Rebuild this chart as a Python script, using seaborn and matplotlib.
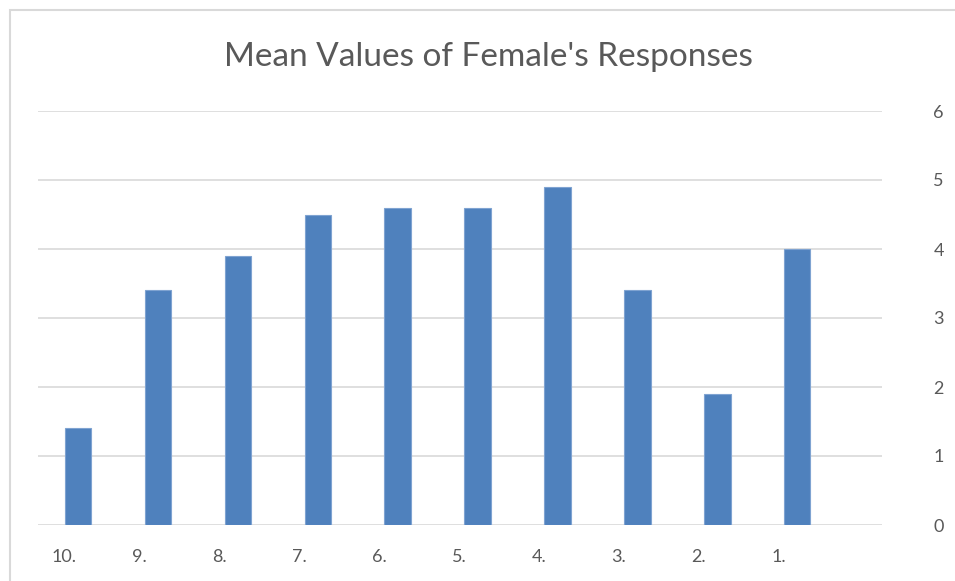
import matplotlib.pyplot as plt
import matplotlib.transforms as mtransforms
from matplotlib.patches import Rectangle
import seaborn as sns
import pandas as pd

# === DATA ===
items = ["10.", "9.", "8.", "7.", "6.", "5.", "4.", "3.", "2.", "1."]
mean_values = [1.4, 3.4, 3.9, 4.5, 4.6, 4.6, 4.9, 3.4, 1.9, 4.0]
y_ticks = [0, 1, 2, 3, 4, 5, 6]

df = pd.DataFrame({"item": items, "mean": mean_values})

sns.set_style("white")
plt.rcParams['font.family'] = ['Lato', 'DejaVu Sans']

TEXT = "#595959"
GRID = "#D9D9D9"
BAR = "#4F81BD"

fig = plt.figure(figsize=(9.55, 5.81), dpi=100)
ax = fig.add_axes([38 / 955, 56 / 581, 844 / 955, 414 / 581])

sns.barplot(data=df, x="item", y="mean", order=items, color=BAR,
            width=0.33, saturation=1, edgecolor="#7FA3D1", linewidth=0.8,
            ax=ax, zorder=3)

ax.set_xlim(-0.5, 10.06)
ax.set_ylim(0, 6)
ax.set_yticks(y_ticks)
ax.yaxis.tick_right()
ax.yaxis.grid(True, color=GRID, linewidth=1.2, zorder=0)
ax.tick_params(axis="y", length=0, pad=37, labelsize=13, labelcolor=TEXT)
ax.tick_params(axis="x", length=0, pad=17, labelsize=13, labelcolor=TEXT)
for lbl in ax.get_yticklabels():
    lbl.set_horizontalalignment("left")

# category labels sit slightly left of the bars
shift = mtransforms.ScaledTranslation(-26 / 100, 0, fig.dpi_scale_trans)
for lbl in ax.get_xticklabels():
    lbl.set_horizontalalignment("left")
    lbl.set_transform(lbl.get_transform() + shift)

ax.set_xlabel("")
ax.set_ylabel("")
for side in ["top", "right", "left", "bottom"]:
    ax.spines[side].set_visible(False)

fig.text(488 / 955, 1 - 57 / 581, "Mean Values of Female's Responses",
         ha="center", va="center", fontsize=24, color=TEXT)

# outer chart frame
fig.patches.append(Rectangle((10 / 955, -0.01), 1.0, 1 - 10 / 581 + 0.01,
                             transform=fig.transFigure, fill=False,
                             edgecolor="#D9D9D9", linewidth=1.5))

fig.savefig("out.png", dpi=100, facecolor="white")
